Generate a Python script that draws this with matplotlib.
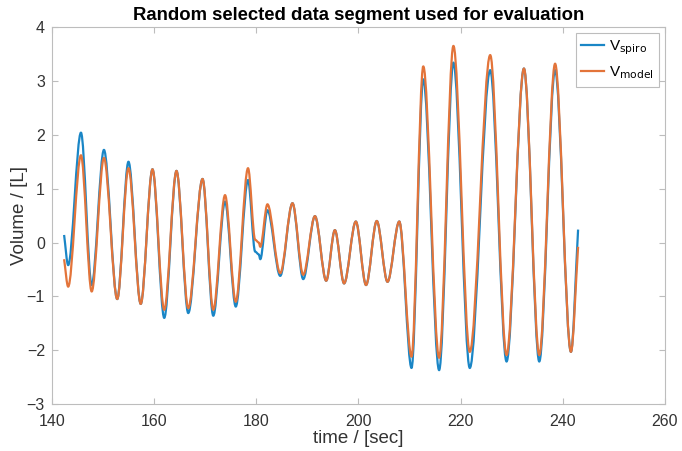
import matplotlib
matplotlib.use("Agg")
import matplotlib.pyplot as plt
from matplotlib.path import Path
from matplotlib.patches import PathPatch
from matplotlib.lines import Line2D

plt.rcParams["font.family"] = ["Liberation Sans", "DejaVu Sans"]

# turning points of the breathing signal
time_s = [142.4, 143.2, 145.7, 147.8, 150.2, 152.8, 155.0, 157.4, 159.7, 162.0,
          164.4, 166.7, 169.5, 171.6, 173.9, 176.0, 178.4, 179.8, 180.5, 180.8,
          182.2, 184.7, 187.1, 189.2, 191.5, 193.7, 195.4, 197.2, 199.5, 201.5,
          203.6, 205.7, 208.0, 210.4, 212.7, 215.8, 218.6, 221.8, 225.8, 229.0,
          232.4, 235.4, 238.5, 241.6, 243.0]

v_spiro = [0.14, -0.42, 2.04, -0.79, 1.72, -1.05, 1.50, -1.14, 1.36, -1.40,
           1.33, -1.31, 1.18, -1.36, 0.76, -1.19, 1.16, -0.17, -0.22, -0.31,
           0.60, -0.62, 0.73, -0.68, 0.49, -0.71, 0.23, -0.76, 0.39, -0.79,
           0.40, -0.73, 0.39, -2.33, 3.03, -2.37, 3.34, -2.33, 3.20, -2.21,
           3.23, -2.21, 3.20, -2.03, 0.24]

v_model = [-0.31, -0.82, 1.62, -0.91, 1.57, -1.05, 1.38, -1.14, 1.36, -1.25,
           1.33, -1.22, 1.18, -1.25, 0.88, -1.10, 1.38, 0.05, 0.0, -0.08,
           0.71, -0.57, 0.73, -0.60, 0.49, -0.71, 0.23, -0.76, 0.39, -0.79,
           0.40, -0.73, 0.39, -2.12, 3.27, -2.14, 3.65, -2.03, 3.48, -2.09,
           3.23, -2.09, 3.32, -2.03, -0.08]

xticks = [140, 160, 180, 200, 220, 240, 260]
yticks = [-3, -2, -1, 0, 1, 2, 3, 4]

blue = "#1a86c6"
orange = "#e3743a"


# smooth curve through the turning points (flat tangent at each turning point)
def breath_path(t, v):
    n = len(t)
    verts = [(t[0], v[0])]
    codes = [Path.MOVETO]
    for i in range(n - 1):
        dt = t[i + 1] - t[i]
        dv = v[i + 1] - v[i]
        c1 = (t[i] + dt / 3, v[i] if i > 0 else v[i] + dv / 3)
        c2 = (t[i + 1] - dt / 3, v[i + 1] if i + 1 < n - 1 else v[i + 1] - dv / 3)
        verts += [c1, c2, (t[i + 1], v[i + 1])]
        codes += [Path.CURVE4] * 3
    return Path(verts, codes)


fig = plt.figure(figsize=(6.82, 4.51), dpi=100)
ax = fig.add_axes([0.076, 0.104, 0.899, 0.836])

ax.add_patch(PathPatch(breath_path(time_s, v_spiro), facecolor="none",
                       edgecolor=blue, lw=1.6, joinstyle="round"))
ax.add_patch(PathPatch(breath_path(time_s, v_model), facecolor="none",
                       edgecolor=orange, lw=1.6, joinstyle="round"))

ax.set_xlim(140, 260)
ax.set_ylim(-3, 4)
ax.set_xticks(xticks)
ax.set_yticks(yticks)

for s in ax.spines.values():
    s.set_color("#bdbdbd")
ax.tick_params(direction="in", top=True, right=True, length=4, color="#bdbdbd",
               labelcolor="#333333", labelsize=11.5)
ax.tick_params(axis="x", pad=7)
ax.tick_params(axis="y", pad=5)

ax.set_title("Random selected data segment used for evaluation",
             fontsize=13.3, fontweight="bold", pad=5)
ax.set_xlabel("time / [sec]", fontsize=13.5, color="#333333", labelpad=1)
ax.set_ylabel("Volume / [L]", fontsize=13.5, color="#333333", labelpad=-1)

handles = [Line2D([], [], color=blue, lw=1.6), Line2D([], [], color=orange, lw=1.6)]
leg = ax.legend(handles, [r"V$_{\mathrm{spiro}}$", r"V$_{\mathrm{model}}$"],
                loc="upper right", fontsize=11, handlelength=1.5, handletextpad=0.3,
                borderaxespad=0.4, borderpad=0.35, fancybox=False, framealpha=1)
leg.get_frame().set_edgecolor("#bdbdbd")
leg.get_frame().set_linewidth(0.8)

fig.savefig("out.png", dpi=100)
